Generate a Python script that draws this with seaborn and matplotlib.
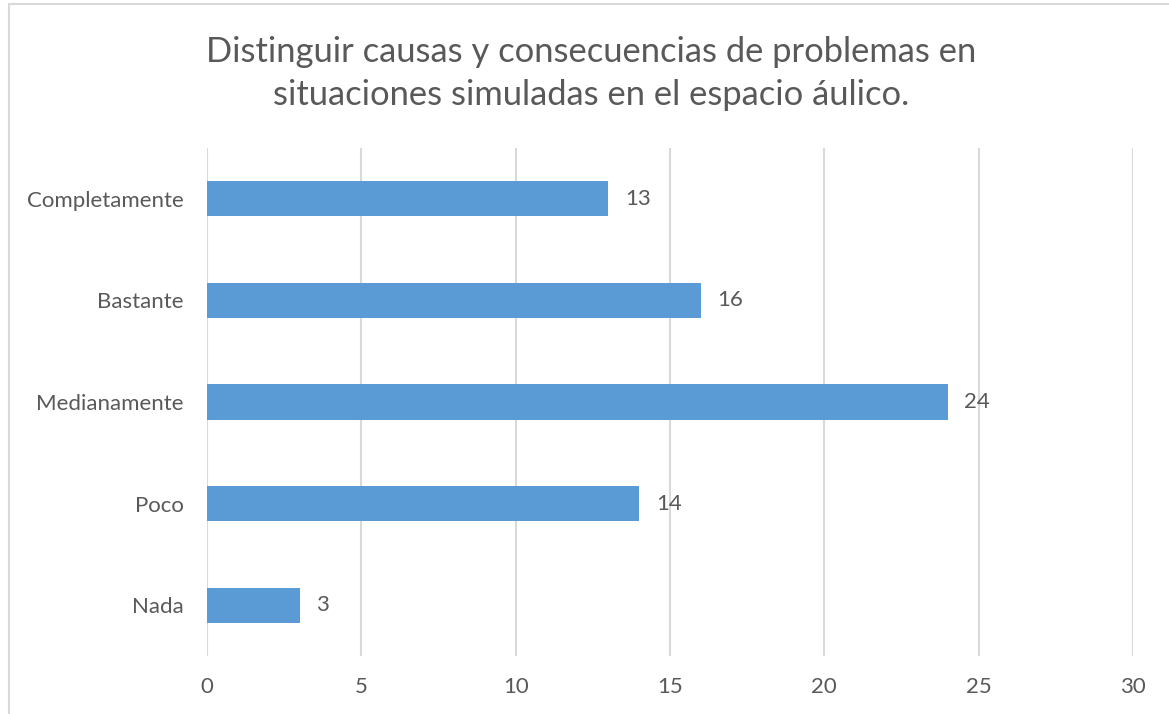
import pandas as pd
import matplotlib.pyplot as plt
import seaborn as sns
from matplotlib.patches import Rectangle

# Valores
categorias = ['Completamente', 'Bastante', 'Medianamente', 'Poco', 'Nada']
respuestas = [13, 16, 24, 14, 3]
ticks_x = [0, 5, 10, 15, 20, 25, 30]
titulo = 'Distinguir causas y consecuencias de problemas en\nsituaciones simuladas en el espacio áulico.'

df = pd.DataFrame({'Categoria': categorias, 'Respuestas': respuestas})

sns.set_style('white')
plt.rcParams['font.family'] = ['Lato', 'DejaVu Sans']

texto = '#595959'
gris = '#D9D9D9'

fig = plt.figure(figsize=(11.69, 7.14), dpi=100)
ax = fig.add_axes([0.1771, 0.0812, 0.7921, 0.7115])

sns.barplot(data=df, x='Respuestas', y='Categoria', orient='h',
            color='#5B9BD5', width=0.345, saturation=1, linewidth=0, ax=ax)

ax.set_xlim(0, 30)
ax.set_ylim(4.5, -0.5)
ax.set_xticks(ticks_x)
ax.set_xlabel('')
ax.set_ylabel('')
ax.grid(axis='x', color=gris, linewidth=1.5)
ax.grid(axis='y', visible=False)
ax.set_axisbelow(True)
for s in ax.spines.values():
    s.set_visible(False)
ax.tick_params(axis='y', length=0, pad=17, labelsize=16, labelcolor=texto)
ax.tick_params(axis='x', length=0, pad=15, labelsize=16, labelcolor=texto)

for cont in ax.containers:
    ax.bar_label(cont, padding=12, fontsize=16, color=texto)

fig.text(0.5056, 0.897, titulo, ha='center', va='center', fontsize=24.8,
         color=texto, linespacing=1.4)

# borde del área del gráfico (solo se ve arriba e izquierda)
fig.patches.append(Rectangle((9 / 1169, -0.1), 1.2, 1.1 - 4 / 714,
                             transform=fig.transFigure, fill=False,
                             edgecolor=gris, linewidth=1.5))

fig.savefig('out.png', dpi=100)
